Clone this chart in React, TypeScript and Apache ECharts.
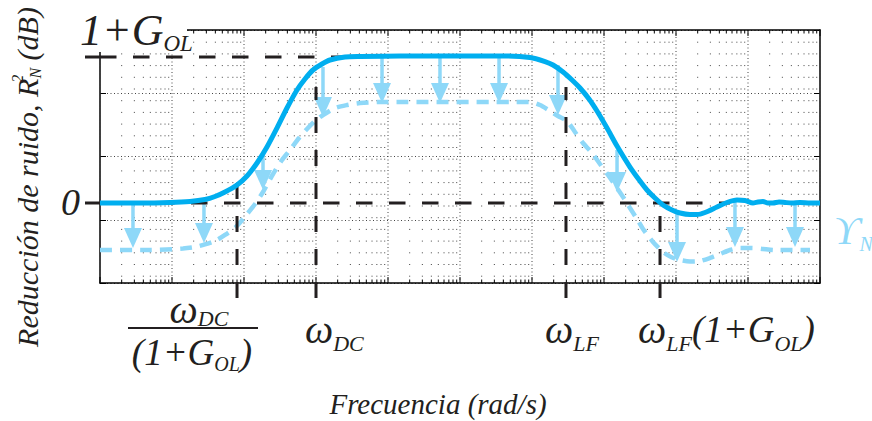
import React, { useEffect, useRef } from "react";
import * as echarts from "echarts";

// ---------- data (frequency as log10 exponent of rad/s, level in normalized dB: 1+G_OL = 20) ----------
const solidLogW = [0, 0.556, 0.972, 1.25, 1.458, 1.597, 1.736, 1.903, 2.042, 2.181, 2.319, 2.458, 2.597, 2.736, 2.847, 2.958, 3.083, 3.194, 3.403, 3.611, 4.167, 4.861, 5.556, 5.972, 6.181, 6.292, 6.431, 6.556, 6.667, 6.792, 6.903, 7.042, 7.181, 7.361, 7.5, 7.597, 7.708, 7.819, 7.944, 8.056, 8.194, 8.292, 8.403, 8.569, 8.708, 8.847, 8.958, 9.069, 9.139, 9.208, 9.278, 9.347, 9.431, 9.514, 9.611, 9.722, 9.861, 10];
const solidDb = [0, 0, 0.07, 0.21, 0.48, 0.89, 1.51, 2.47, 3.7, 5.48, 7.67, 10.27, 13.01, 15.48, 16.99, 18.22, 19.04, 19.59, 20.0, 20.07, 20.14, 20.14, 20.14, 19.93, 19.38, 18.9, 17.95, 16.85, 15.75, 14.25, 12.6, 10.27, 7.81, 4.93, 3.01, 1.78, 0.68, -0.27, -0.96, -1.37, -1.58, -1.58, -1.3, -0.55, 0.07, 0.41, 0.34, 0, 0.14, 0.21, 0, 0, 0.14, 0.07, 0, 0.07, 0, 0];

const dashedLogW = [0, 0.694, 1.153, 1.319, 1.458, 1.597, 1.736, 1.903, 2.042, 2.153, 2.264, 2.403, 2.528, 2.639, 2.764, 2.875, 2.986, 3.097, 3.264, 3.431, 3.611, 3.889, 5.972, 6.111, 6.25, 6.361, 6.486, 6.597, 6.708, 6.833, 6.944, 7.056, 7.181, 7.292, 7.361, 7.458, 7.542, 7.681, 7.819, 7.931, 8.056, 8.194, 8.333, 8.472, 8.611, 8.75, 8.889, 9.056, 9.208, 9.375, 9.542, 9.861];
const dashedDb = [-6.44, -6.44, -6.23, -6.03, -5.68, -5.21, -4.38, -3.15, -1.51, -0.14, 1.51, 3.97, 5.89, 7.26, 8.9, 10.14, 11.23, 12.05, 13.01, 13.42, 13.7, 13.84, 13.84, 13.42, 12.6, 11.92, 11.23, 9.73, 8.22, 6.85, 5.34, 3.84, 2.05, 0.41, -0.68, -2.19, -3.56, -5.34, -6.71, -7.4, -7.81, -8.01, -7.95, -7.53, -6.99, -6.44, -6.16, -6.16, -6.3, -6.44, -6.44, -6.44];

const arrowLogW = [0.458, 1.444, 2.264, 3.097, 3.917, 4.722, 5.542, 6.361, 7.181, 8.014, 8.819, 9.653];
const arrowFromDb = [0, 0.41, 6.85, 18.63, 20.14, 20.14, 20.14, 18.9, 7.26, -1.37, 0.41, 0];
const arrowToDb = [-6.16, -5.48, 1.78, 11.78, 13.7, 13.7, 13.7, 12.05, 1.51, -8.08, -6.03, -6.03];

// reference levels (horizontal dashed lines): 1+G_OL and 0
const levelDb = [20, 0];
const levelEndLogW = [3.43, 8.75];
// characteristic frequencies (vertical dashed lines): ωDC/(1+GOL), ωDC, ωLF, ωLF(1+GOL)
const markLogW = [1.903, 3.0, 6.472, 7.778];
const markTopDb = [2.88, 15.9, 15.9, 0];

const X_MIN_LOG = 0;
const X_MAX_LOG = 10;
const Y_MIN = -10.96;
const Y_MAX = 23.7;

// ---------- style ----------
const FONT = "Liberation Serif, DejaVu Serif, serif";
const BLUE = "#00AEEF";
const LIGHT = "#8ED8F8";
const INK = "#231F20";

const w = (p: number) => Math.pow(10, p);

function buildOption() {
  const gridFreqs: number[][] = [];
  for (let d = X_MIN_LOG; d < X_MAX_LOG; d++) {
    for (let k = 1; k <= 9; k++) gridFreqs.push([k * w(d), k === 1 ? 1 : 0]);
  }
  gridFreqs.push([w(X_MAX_LOG), 1]);

  const it = (size: number, extra: any = {}) => ({
    fontSize: size,
    fontFamily: FONT,
    fontStyle: "italic",
    fill: INK,
    verticalAlign: "middle",
    lineHeight: 46,
    ...extra,
  });

  const axisLine = { show: true, onZero: false, lineStyle: { color: "#000", width: 1.5 } };

  return {
    animation: false,
    backgroundColor: "#fff",
    grid: { left: 100, right: 52, top: 30, bottom: 138, containLabel: false },
    xAxis: [
      {
        type: "log",
        logBase: 10,
        min: w(X_MIN_LOG),
        max: w(X_MAX_LOG),
        position: "bottom",
        axisLine,
        axisTick: { show: false },
        axisLabel: { show: false },
        splitLine: { show: false },
      },
      {
        type: "value",
        min: 0,
        max: 1,
        position: "top",
        axisLine,
        axisTick: { show: false },
        axisLabel: { show: false },
        splitLine: { show: false },
      },
    ],
    yAxis: [
      {
        type: "value",
        min: 0,
        max: 4,
        interval: 1,
        position: "left",
        axisLine,
        axisTick: { show: true, inside: true, length: 6, lineStyle: { color: "#000", width: 1 } },
        axisLabel: { show: false },
        splitLine: { show: true, lineStyle: { color: "#444", width: 1, type: [1, 2.5] } },
      },
      {
        type: "value",
        min: 0,
        max: 4,
        interval: 1,
        position: "right",
        axisLine,
        axisTick: { show: true, inside: true, length: 6, lineStyle: { color: "#000", width: 1 } },
        axisLabel: { show: false },
        splitLine: { show: false },
      },
      { type: "value", min: Y_MIN, max: Y_MAX, show: false },
    ],
    series: [
      {
        type: "custom",
        name: "grid",
        xAxisIndex: 0,
        yAxisIndex: 2,
        z: 1,
        silent: true,
        clip: false,
        data: gridFreqs,
        renderItem: (params: any, api: any) => {
          const major = api.value(1) === 1;
          const x = api.coord([api.value(0), 0])[0];
          const cs = params.coordSys;
          const top = cs.y;
          const bot = cs.y + cs.height;
          const tl = major ? 6 : 3.5;
          return {
            type: "group",
            children: [
              {
                type: "line",
                shape: { x1: x, y1: top, x2: x, y2: bot },
                style: { stroke: "#444", lineWidth: 1, lineDash: major ? [1, 2.5] : [1, 10.7] },
              },
              { type: "line", shape: { x1: x, y1: bot, x2: x, y2: bot - tl }, style: { stroke: "#000", lineWidth: 1 } },
              { type: "line", shape: { x1: x, y1: top, x2: x, y2: top + tl }, style: { stroke: "#000", lineWidth: 1 } },
            ],
          };
        },
      },
      {
        type: "line",
        name: "ϒ_N",
        xAxisIndex: 0,
        yAxisIndex: 2,
        z: 2,
        showSymbol: false,
        smooth: 0.25,
        data: dashedLogW.map((p, i) => [w(p), dashedDb[i]]),
        lineStyle: { color: LIGHT, width: 4.5, type: [12, 8] },
      },
      {
        type: "custom",
        name: "arrows",
        xAxisIndex: 0,
        yAxisIndex: 2,
        z: 3,
        clip: false,
        data: arrowLogW.map((p, i) => [w(p), arrowFromDb[i], arrowToDb[i]]),
        renderItem: (_params: any, api: any) => {
          const a = api.coord([api.value(0), api.value(1)]);
          const b = api.coord([api.value(0), api.value(2)]);
          const hl = 20;
          const hw = 9;
          return {
            type: "group",
            children: [
              {
                type: "line",
                shape: { x1: a[0], y1: a[1], x2: b[0], y2: b[1] - hl + 2 },
                style: { stroke: LIGHT, lineWidth: 3.5 },
              },
              {
                type: "polygon",
                shape: { points: [[b[0] - hw, b[1] - hl], [b[0] + hw, b[1] - hl], [b[0], b[1]]] },
                style: { fill: LIGHT },
              },
            ],
          };
        },
      },
      {
        type: "custom",
        name: "levels",
        xAxisIndex: 0,
        yAxisIndex: 2,
        z: 4,
        clip: false,
        data: levelDb.map((v, i) => [w(X_MIN_LOG), v, w(levelEndLogW[i]), i]),
        renderItem: (_params: any, api: any) => {
          const s = api.coord([api.value(0), api.value(1)]);
          const e = api.coord([api.value(2), api.value(1)]);
          const offs = api.value(3) === 0 ? 0 : 8;
          return {
            type: "group",
            children: [
              {
                type: "line",
                shape: { x1: s[0], y1: s[1], x2: e[0], y2: e[1] },
                style: { stroke: INK, lineWidth: 3, lineDash: [16.5, 16.5], lineDashOffset: offs },
              },
              {
                type: "line",
                shape: { x1: s[0] - 15, y1: s[1], x2: s[0], y2: s[1] },
                style: { stroke: INK, lineWidth: 3 },
              },
            ],
          };
        },
      },
      {
        type: "custom",
        name: "marks",
        xAxisIndex: 0,
        yAxisIndex: 2,
        z: 4,
        clip: false,
        data: markLogW.map((p, i) => [w(p), markTopDb[i]]),
        renderItem: (params: any, api: any) => {
          const t = api.coord([api.value(0), api.value(1)]);
          const cs = params.coordSys;
          const bot = cs.y + cs.height + 15;
          return {
            type: "line",
            shape: { x1: t[0], y1: bot, x2: t[0], y2: t[1] },
            style: { stroke: INK, lineWidth: 3, lineDash: [16, 17] },
          };
        },
      },
      {
        type: "line",
        name: "R_N^2",
        xAxisIndex: 0,
        yAxisIndex: 2,
        z: 5,
        showSymbol: false,
        smooth: 0.25,
        data: solidLogW.map((p, i) => [w(p), solidDb[i]]),
        lineStyle: { color: BLUE, width: 5 },
      },
    ],
    graphic: [
      // white box behind the top level label (hides the frame corner, as in the reference)
      {
        type: "rect",
        z: 100,
        shape: { x: 56, y: 0, width: 131, height: 52 },
        style: { fill: "#fff" },
      },
      // y level labels
      {
        type: "text",
        x: 80,
        y: 30,
        z: 101,
        style: {
          text: "{a|1+G}{s|OL}",
          align: "left",
          verticalAlign: "middle",
          rich: { a: it(44), s: it(23, { padding: [26, 0, 0, 0] }) },
        },
      },
      {
        type: "text",
        x: 80,
        y: 202,
        z: 101,
        style: { text: "{a|0}", align: "right", verticalAlign: "middle", rich: { a: it(38) } },
      },
      // y axis title
      {
        type: "text",
        x: 27,
        y: 177,
        rotation: Math.PI / 2,
        z: 101,
        style: {
          text: "{a|Reducción de ruido, R}{p|2}{b|N}{a| (dB)}",
          align: "center",
          verticalAlign: "middle",
          rich: {
            a: it(30),
            p: it(16, { width: 0.01, padding: [0, 0, 20, 0] }),
            b: it(16, { padding: [16, 0, 0, 0] }),
          },
        },
      },
      // x tick labels
      {
        type: "text",
        x: 199,
        y: 309,
        z: 101,
        style: {
          text: "{w|ω}{s|DC}",
          align: "center",
          verticalAlign: "middle",
          rich: { w: it(40, { lineHeight: 30 }), s: it(22, { lineHeight: 30, padding: [18, 0, 0, 0] }) },
        },
      },
      {
        type: "line",
        z: 101,
        shape: { x1: 128, y1: 328, x2: 258, y2: 328 },
        style: { stroke: INK, lineWidth: 2 },
      },
      {
        type: "text",
        x: 192,
        y: 352,
        z: 101,
        style: {
          text: "{p|(1+G}{s|OL}{p|)}",
          align: "center",
          verticalAlign: "middle",
          rich: { p: it(37, { lineHeight: 34 }), s: it(20, { lineHeight: 34, padding: [24, 0, 0, 0] }) },
        },
      },
      {
        type: "text",
        x: 305,
        y: 329,
        z: 101,
        style: {
          text: "{w|ω}{s|DC}",
          align: "left",
          verticalAlign: "middle",
          rich: { w: it(40), s: it(22, { padding: [28, 0, 0, 0] }) },
        },
      },
      {
        type: "text",
        x: 545,
        y: 329,
        z: 101,
        style: {
          text: "{w|ω}{s|LF}",
          align: "left",
          verticalAlign: "middle",
          rich: { w: it(40), s: it(22, { padding: [28, 0, 0, 0] }) },
        },
      },
      {
        type: "text",
        x: 638,
        y: 329,
        z: 101,
        style: {
          text: "{w|ω}{s|LF}{p|(1+G}{s|OL}{p|)}",
          align: "left",
          verticalAlign: "middle",
          rich: { w: it(40), p: it(37), s: it(22, { padding: [28, 0, 0, 0] }) },
        },
      },
      // x axis title
      {
        type: "text",
        x: 438,
        y: 404,
        z: 101,
        style: { text: "{a|Frecuencia (rad/s)}", align: "center", verticalAlign: "middle", rich: { a: it(29) } },
      },
      // series label
      {
        type: "text",
        x: 834,
        y: 230,
        z: 101,
        style: {
          text: "{u|ϒ}{s|N}",
          align: "left",
          verticalAlign: "middle",
          rich: { u: it(40, { fill: LIGHT }), s: it(20, { fill: LIGHT, padding: [28, 0, 0, 0] }) },
        },
      },
    ],
  };
}

export default function App() {
  const ref = useRef<HTMLDivElement>(null);
  useEffect(() => {
    if (!ref.current) return;
    const chart = echarts.init(ref.current, undefined, { renderer: "svg" });
    chart.setOption(buildOption() as any);
    return () => chart.dispose();
  }, []);
  return (
    <div
      ref={ref}
      style={{ position: "fixed", left: 0, top: 0, width: 872, height: 421, background: "#fff" }}
    />
  );
}
